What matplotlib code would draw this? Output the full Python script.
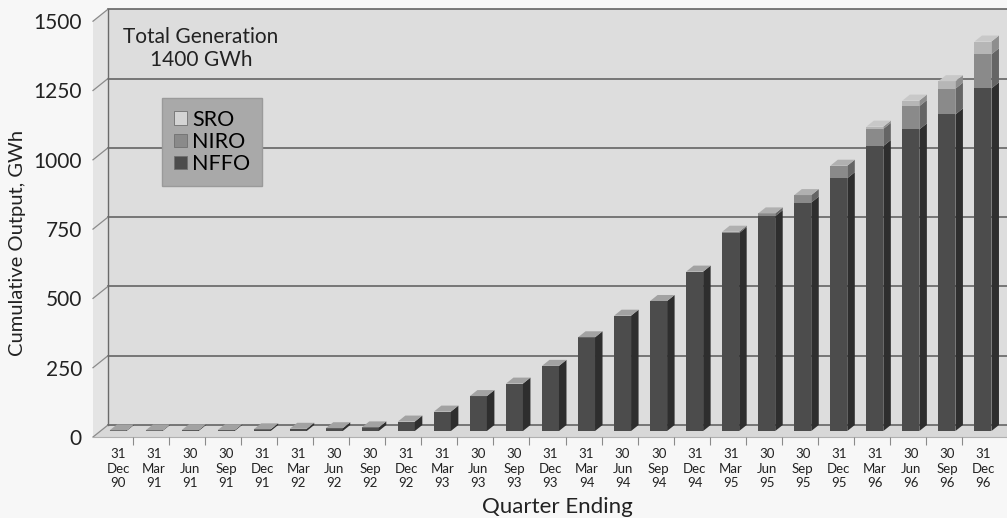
import numpy as np
import matplotlib.pyplot as plt
from matplotlib.patches import Polygon, Patch

plt.rcParams['font.family'] = ['Lato', 'DejaVu Sans']

# Quarter ending dates
quarters = ['31\nDec\n90', '31\nMar\n91', '30\nJun\n91', '30\nSep\n91',
            '31\nDec\n91', '31\nMar\n92', '30\nJun\n92', '30\nSep\n92',
            '31\nDec\n92', '31\nMar\n93', '30\nJun\n93', '30\nSep\n93',
            '31\nDec\n93', '31\nMar\n94', '30\nJun\n94', '30\nSep\n94',
            '31\nDec\n94', '31\nMar\n95', '30\nJun\n95', '30\nSep\n95',
            '31\nDec\n95', '31\nMar\n96', '30\nJun\n96', '30\nSep\n96',
            '31\nDec\n96']

# Cumulative output, GWh
nffo = [2, 2, 3, 3, 6, 8, 10, 13, 34, 70, 126, 171, 235, 338, 416, 469,
        575, 714, 775, 824, 912, 1028, 1088, 1142, 1236]
niro = [0, 0, 0, 0, 0, 0, 0, 0, 0, 0, 0, 0, 0, 0, 0, 0,
        0, 5, 10, 27, 45, 62, 84, 93, 123]
sro = [0, 0, 0, 0, 0, 0, 0, 0, 0, 0, 0, 0, 0, 0, 0, 0,
       0, 0, 0, 0, 0, 8, 20, 27, 46]

y_ticks = [0, 250, 500, 750, 1000, 1250, 1500]

# series drawn bottom-up: name, front, side, top colour
series = [
    ('NFFO', nffo, '#4c4c4c', '#2e2e2e', '#a2a2a2'),
    ('NIRO', niro, '#8a8a8a', '#656565', '#b0b0b0'),
    ('SRO', sro, '#b6b6b6', '#8e8e8e', '#c8c8c8'),
]

# layout in pixels
W, H = 1007, 518
LEFT, BASE = 93, 437          # front-left corner of the floor
X0, PITCH = 118, 36.04        # first bar centre, bar spacing
PX_PER_GWH = 69.3 / 250
DEPTH = (15, 12)              # depth offset of the back wall

fig = plt.figure(figsize=(W / 100, H / 100), dpi=100)
fig.patch.set_facecolor('#f7f7f7')
ax = fig.add_axes([LEFT / W, (H - BASE) / H, (W - LEFT) / W, BASE / H])
x_left = (LEFT - X0) / PITCH
x_right = (W - X0) / PITCH
ax.set_xlim(x_left, x_right)
ax.set_ylim(0, BASE / PX_PER_GWH)
ax.set_facecolor('none')
for s in ax.spines.values():
    s.set_visible(False)

dx = DEPTH[0] / PITCH
dy = DEPTH[1] / PX_PER_GWH
top = y_ticks[-1]

# walls and floor
ax.add_patch(Polygon([(x_left + dx, dy), (x_right + 1, dy),
                      (x_right + 1, top + dy), (x_left + dx, top + dy)],
                     facecolor='#dddddd', edgecolor='none', zorder=0))
ax.add_patch(Polygon([(x_left, 0), (x_left + dx, dy),
                      (x_left + dx, top + dy), (x_left, top)],
                     facecolor='#e4e4e4', edgecolor='none', zorder=0, clip_on=False))
ax.add_patch(Polygon([(x_left, 0), (x_right + 1, 0),
                      (x_right + 1, dy), (x_left + dx, dy)],
                     facecolor='#d8d8d8', edgecolor='none', zorder=0, clip_on=False))

for v in y_ticks:
    ax.plot([x_left + dx, x_right + 1], [v + dy, v + dy], color='#646464', lw=1.2, zorder=1)
    ax.plot([x_left, x_left + dx], [v, v + dy], color='#8a8a8a', lw=0.9, zorder=1, clip_on=False)
ax.plot([x_left + dx, x_left + dx], [dy, top + dy], color='#6a6a6a', lw=1.0, zorder=1)
ax.plot([x_left, x_right + 1], [0, 0], color='#b0b0b0', lw=0.8, zorder=1, clip_on=False)

# 3-D bars: front at mid depth, back against the wall
f = 0.5
fx, fy = f * dx, f * dy
bdx, bdy = (1 - f) * dx, (1 - f) * dy
bw = 17 / PITCH
hw = bw / 2
x = np.arange(len(quarters))

bottom = np.zeros(len(quarters))
top_colour = [None] * len(quarters)
for name, vals, front, side, topc in series:
    vals = np.array(vals, dtype=float)
    ax.bar(x, vals, bottom=bottom + fy, width=bw, color=front, linewidth=0, zorder=3)
    for i in range(len(x)):
        if vals[i] <= 0:
            continue
        b, t = bottom[i] + fy, bottom[i] + vals[i] + fy
        ax.add_patch(Polygon([(i + hw, b), (i + hw + bdx, b + bdy),
                              (i + hw + bdx, t + bdy), (i + hw, t)],
                             facecolor=side, edgecolor='none', zorder=3))
        top_colour[i] = topc
    bottom = bottom + vals

for i in range(len(x)):
    t = bottom[i] + fy
    ax.add_patch(Polygon([(i - hw, t), (i + hw, t), (i + hw + bdx, t + bdy),
                          (i - hw + bdx, t + bdy)],
                         facecolor=top_colour[i], edgecolor='none', zorder=4))

# axes ticks and labels
ax.set_xticks(x)
ax.set_xticklabels(quarters, fontsize=9.5, linespacing=1.25, color='#222222')
ax.set_xticks(x[:-1] + 0.5 - 3 / PITCH, minor=True)
ax.tick_params(axis='x', which='major', length=0, pad=8)
ax.tick_params(axis='x', which='minor', length=5.5, width=0.8, color='#8a8a8a', direction='out')
ax.set_yticks(y_ticks)
ax.set_yticklabels([str(v) for v in y_ticks], fontsize=15, color='#222222')
ax.tick_params(axis='y', length=0, pad=8)

ax.set_ylabel('Cumulative Output, GWh', fontsize=14.5, color='#222222')
ax.yaxis.set_label_coords((17.5 - LEFT) / (W - LEFT), (BASE - 243) / BASE)
ax.yaxis.label.set_va('center')
ax.set_xlabel('Quarter Ending', fontsize=16, color='#222222')
ax.xaxis.set_label_coords((557 - LEFT) / (W - LEFT), (BASE - 507) / BASE)
ax.xaxis.label.set_va('center')

fig.text(201 / W, 1 - 48.5 / H, 'Total Generation\n1400 GWh', fontsize=15,
         ha='center', va='center', linespacing=1.2, color='#222222')

handles = [Patch(facecolor=s[2], edgecolor='#707070', linewidth=0.6) for s in series[::-1]]
handles[0].set_facecolor('#d4d4d4')
leg = ax.legend(handles, [s[0] for s in series[::-1]], loc='upper left',
                bbox_to_anchor=(162 / W, 1 - 98 / H), bbox_transform=fig.transFigure,
                fancybox=False, facecolor='#a9a9a9', edgecolor='#9a9a9a', framealpha=1,
                fontsize=15.5, handlelength=0.6, handleheight=0.6, handletextpad=0.25,
                labelspacing=0.1, borderpad=0.55, borderaxespad=0)
leg.set_zorder(5)

fig.savefig('out.png', dpi=100, facecolor=fig.get_facecolor())
